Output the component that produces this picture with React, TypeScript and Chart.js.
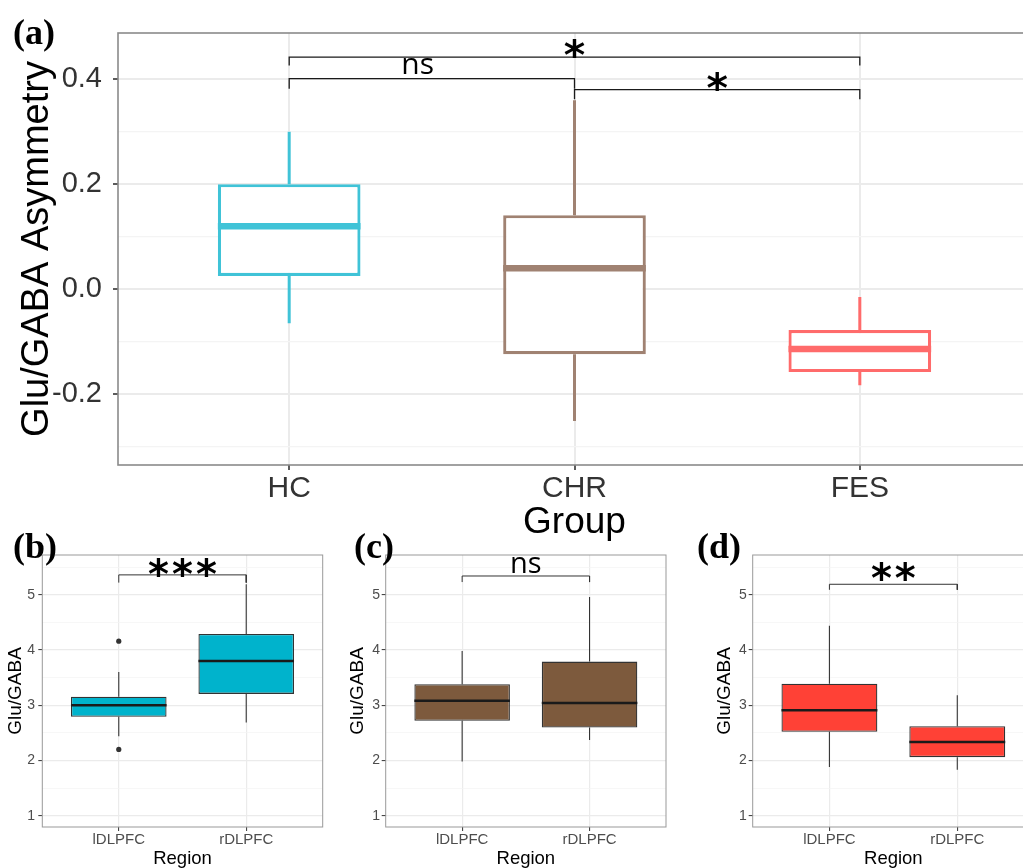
import React, { useEffect, useRef } from 'react';
import { Chart, registerables } from 'chart.js';
Chart.register(...registerables);

// ---------- Panel (a): Glu/GABA asymmetry by group ----------
const groupLabels = ['HC', 'CHR', 'FES'];
const groupColors = ['#40C3D7', '#A08272', '#FF6B6B'];
const asymMin = [-0.065, -0.251, -0.183];
const asymQ1 = [0.025, -0.124, -0.158];
const asymMedian = [0.12, 0.04, -0.114];
const asymQ3 = [0.2, 0.141, -0.078];
const asymMax = [0.3, 0.36, -0.015];
const asymTicks = [-0.3, -0.2, -0.1, 0, 0.1, 0.2, 0.3, 0.4];
const asymTickLabels = ['', '-0.2', '', '0.0', '', '0.2', '', '0.4'];
const asymBracketFrom = [0, 1, 0];
const asymBracketTo = [1, 2, 2];
const asymBracketY = [0.401, 0.38, 0.442];
const asymBracketTickY = [0.382, 0.362, 0.426];
const asymBracketLabel = ['ns', '*', '*'];
const asymBracketLabelX = [0.45, 1.5, 1.0];

// ---------- Panels (b)-(d): Glu/GABA by region ----------
const regionLabels = ['lDLPFC', 'rDLPFC'];
const ratioTicks = [1, 1.5, 2, 2.5, 3, 3.5, 4, 4.5, 5, 5.5];
const ratioTickLabels = ['1', '', '2', '', '3', '', '4', '', '5', ''];

const hcMin = [2.44, 2.685];
const hcQ1 = [2.79, 3.205];
const hcMedian = [3.0, 3.8];
const hcQ3 = [3.155, 4.29];
const hcMax = [3.6, 5.19];
const hcOutlierRegion = [0, 0];
const hcOutlierValue = [4.16, 2.2];
const hcBracket = { from: 0, to: 1, y: 5.36, tickY: 5.22, label: '***' };

const chrMin = [1.98, 2.37];
const chrQ1 = [2.72, 2.595];
const chrMedian = [3.08, 3.04];
const chrQ3 = [3.38, 3.79];
const chrMax = [3.98, 4.96];
const chrBracket = { from: 0, to: 1, y: 5.34, tickY: 5.23, label: 'ns' };

const fesMin = [1.88, 1.83];
const fesQ1 = [2.52, 2.06];
const fesMedian = [2.91, 2.335];
const fesQ3 = [3.39, 2.62];
const fesMax = [4.44, 3.18];
const fesBracket = { from: 0, to: 1, y: 5.19, tickY: 5.09, label: '**' };

const SANS = "'Liberation Sans', Arial, Helvetica, sans-serif";

interface BracketSpec {
  from: number; to: number; y: number; tickY: number; label: string; labelX: number;
  gap: number; size: number; family: string; weight: string; k: number; spacing: number;
}

interface PanelSpec {
  cats: string[]; min: number[]; q1: number[]; med: number[]; q3: number[]; max: number[];
  outX: number[]; outY: number[];
  fill: string[]; stroke: string[]; whiskerColor: string[]; medColor: string[];
  boxFrac: number; boxLW: number; medLW: number; whiskerLW: number; pointR: number;
  brackets: BracketSpec[]; bracketLW: number; bracketColor: string;
  yTicks: number[]; yTickLabels: string[]; yMin: number; yMax: number; xMin: number; xMax: number;
  yWidth: number; xHeight: number; padTop: number; padRight: number;
  yTickFont: number; xTickFont: number; yTitleFont: number; xTitleFont: number;
  tickLen: number; tickLW: number; yTickPad: number; xTickPad: number;
  yTitle: string; xTitle: string; yTitlePad: number; xTitlePad: number;
  gridMajor: string; gridMinor: string; gridMajorLW: number; gridMinorLW: number;
  borderColor: string; borderLW: number; tickColor: string; tickTextColor: string;
}

function overlayPlugin(p: PanelSpec) {
  return {
    id: 'overlay',
    afterDatasetsDraw(chart: any) {
      const { ctx, chartArea: a, scales } = chart;
      ctx.save();
      ctx.strokeStyle = p.borderColor;
      ctx.lineWidth = p.borderLW;
      ctx.strokeRect(a.left, a.top, a.right - a.left, a.bottom - a.top);
      p.brackets.forEach((b) => {
        ctx.font = `${b.weight} ${b.size}px ${b.family}`;
        (ctx as any).letterSpacing = `${b.spacing}px`;
        ctx.fillStyle = '#000';
        ctx.textAlign = 'center';
        ctx.textBaseline = 'alphabetic';
        const x = scales.x.getPixelForValue(b.labelX) + b.spacing / 2;
        const y = scales.y.getPixelForValue(b.y) - b.gap + b.k * b.size;
        ctx.fillText(b.label, x, y);
      });
      ctx.restore();
    },
  };
}

function buildChart(canvas: HTMLCanvasElement, p: PanelSpec) {
  const idx = p.cats.map((_, i) => i);
  const hw = p.boxFrac / 2;
  const datasets: any[] = [];
  idx.forEach((i) => {
    datasets.push({
      type: 'line', order: 0,
      data: [{ x: i - hw, y: p.med[i] }, { x: i + hw, y: p.med[i] }],
      borderColor: p.medColor[i], borderWidth: p.medLW, pointRadius: 0, fill: false, tension: 0,
    });
  });
  p.brackets.forEach((b) => {
    datasets.push({
      type: 'line', order: 0,
      data: [{ x: b.from, y: b.tickY }, { x: b.from, y: b.y }, { x: b.to, y: b.y }, { x: b.to, y: b.tickY }],
      borderColor: p.bracketColor, borderWidth: p.bracketLW, pointRadius: 0, fill: false, tension: 0,
    });
  });
  if (p.outX.length) {
    datasets.push({
      type: 'line', order: 0, showLine: false,
      data: p.outX.map((x, j) => ({ x, y: p.outY[j] })),
      pointRadius: p.pointR, pointBackgroundColor: '#333333', pointBorderWidth: 0,
    });
  }
  idx.forEach((i) => {
    datasets.push({
      type: 'line', order: 1, spanGaps: false,
      data: [
        { x: i, y: p.q3[i] }, { x: i, y: p.max[i] }, { x: i, y: null },
        { x: i, y: p.q1[i] }, { x: i, y: p.min[i] },
      ],
      borderColor: p.whiskerColor[i], borderWidth: p.whiskerLW, pointRadius: 0, fill: false, tension: 0,
    });
  });
  datasets.push({
    type: 'bar', order: 2,
    data: idx.map((i) => ({ x: i, y: [p.q1[i], p.q3[i]] })),
    backgroundColor: p.fill, borderColor: p.stroke, borderWidth: p.boxLW, borderSkipped: false,
    barPercentage: p.boxFrac, categoryPercentage: 1,
  });

  const isMajor = (ctx: any) => !!p.yTickLabels[ctx.index];

  return new Chart(canvas, {
    type: 'bar',
    data: { datasets },
    plugins: [overlayPlugin(p)],
    options: {
      responsive: false,
      animation: false,
      events: [],
      layout: { padding: { top: p.padTop, right: p.padRight, left: 0, bottom: 0 } },
      plugins: { legend: { display: false }, tooltip: { enabled: false } },
      scales: {
        x: {
          type: 'linear', min: p.xMin, max: p.xMax, offset: false, bounds: 'data',
          afterBuildTicks: (s: any) => { s.ticks = idx.map((v) => ({ value: v })); },
          afterFit: (s: any) => { s.height = p.xHeight; },
          ticks: {
            autoSkip: false, maxRotation: 0, minRotation: 0, padding: p.xTickPad,
            color: p.tickTextColor, font: { family: SANS, size: p.xTickFont },
            callback: (v: any) => p.cats[Math.round(Number(v))],
          },
          grid: {
            offset: false, color: p.gridMajor, lineWidth: p.gridMajorLW,
            tickColor: p.tickColor, tickLength: p.tickLen, tickWidth: p.tickLW,
          },
          border: { display: false },
          title: {
            display: true, text: p.xTitle, color: '#000',
            font: { family: SANS, size: p.xTitleFont, lineHeight: 1 },
            padding: { top: 0, bottom: p.xTitlePad },
          },
        },
        y: {
          type: 'linear', min: p.yMin, max: p.yMax, bounds: 'data',
          afterBuildTicks: (s: any) => { s.ticks = p.yTicks.map((v) => ({ value: v })); },
          afterFit: (s: any) => { s.width = p.yWidth; },
          ticks: {
            autoSkip: false, padding: p.yTickPad, color: p.tickTextColor,
            font: { family: SANS, size: p.yTickFont },
            callback: (_v: any, i: number) => p.yTickLabels[i],
          },
          grid: {
            color: (ctx: any) => (isMajor(ctx) ? p.gridMajor : p.gridMinor),
            lineWidth: (ctx: any) => (isMajor(ctx) ? p.gridMajorLW : p.gridMinorLW),
            tickColor: (ctx: any) => (isMajor(ctx) ? p.tickColor : 'rgba(0,0,0,0)'),
            tickLength: p.tickLen, tickWidth: p.tickLW,
          },
          border: { display: false },
          title: {
            display: true, text: p.yTitle, color: '#000',
            font: { family: SANS, size: p.yTitleFont, lineHeight: 1 },
            padding: { top: p.yTitlePad, bottom: 0 },
          },
        },
      },
    } as any,
  });
}

const specA: PanelSpec = {
  cats: groupLabels, min: asymMin, q1: asymQ1, med: asymMedian, q3: asymQ3, max: asymMax,
  outX: [], outY: [],
  fill: groupLabels.map(() => '#FFFFFF'), stroke: groupColors, whiskerColor: groupColors, medColor: groupColors,
  boxFrac: 0.5, boxLW: 3.2, medLW: 6.5, whiskerLW: 3, pointR: 0,
  brackets: asymBracketLabel.map((label, i) => ({
    from: asymBracketFrom[i], to: asymBracketTo[i], y: asymBracketY[i], tickY: asymBracketTickY[i],
    label, labelX: asymBracketLabelX[i],
    gap: label === 'ns' ? 12.8 : 11.5,
    size: label === 'ns' ? 30 : 41,
    family: label === 'ns' ? "'Open Sans', sans-serif" : "'DejaVu Sans', sans-serif",
    weight: label === 'ns' ? 'normal' : 'bold',
    k: label === 'ns' ? 0.27 : 0.57,
    spacing: 0,
  })),
  bracketLW: 1.3, bracketColor: '#1a1a1a',
  yTicks: asymTicks, yTickLabels: asymTickLabels, yMin: -0.335, yMax: 0.488, xMin: -0.6, xMax: 2.6,
  yWidth: 118, xHeight: 83, padTop: 33, padRight: 0,
  yTickFont: 29, xTickFont: 30, yTitleFont: 38, xTitleFont: 37,
  tickLen: 5, tickLW: 1.6, yTickPad: 11, xTickPad: 1,
  yTitle: 'Glu/GABA Asymmetry', xTitle: 'Group', yTitlePad: 18.5, xTitlePad: 6.5,
  gridMajor: '#EBEBEB', gridMinor: '#F4F4F4', gridMajorLW: 2, gridMinorLW: 1.2,
  borderColor: '#8A8A8A', borderLW: 1.6, tickColor: '#333333', tickTextColor: '#333333',
};

function regionSpec(
  min: number[], q1: number[], med: number[], q3: number[], max: number[],
  outX: number[], outY: number[], color: string,
  bracket: { from: number; to: number; y: number; tickY: number; label: string },
  yWidth: number, padRight: number, yTitlePad: number, yTickPad: number, gap: number,
): PanelSpec {
  const isNs = bracket.label === 'ns';
  return {
    cats: regionLabels, min, q1, med, q3, max, outX, outY,
    fill: regionLabels.map(() => color), stroke: regionLabels.map(() => '#333333'),
    whiskerColor: regionLabels.map(() => '#333333'), medColor: regionLabels.map(() => '#1A1A1A'),
    boxFrac: 0.75, boxLW: 1.3, medLW: 2.6, whiskerLW: 1.1, pointR: 2.6,
    brackets: [{
      ...bracket, labelX: (bracket.from + bracket.to) / 2, gap,
      size: isNs ? 29 : 40,
      family: isNs ? "'Open Sans', sans-serif" : "'DejaVu Sans', sans-serif",
      weight: isNs ? 'normal' : 'bold', k: isNs ? 0.27 : 0.57,
      spacing: isNs ? 0 : 3,
    }],
    bracketLW: 1, bracketColor: '#333333',
    yTicks: ratioTicks, yTickLabels: ratioTickLabels, yMin: 0.795, yMax: 5.72, xMin: -0.6, xMax: 1.6,
    yWidth, xHeight: 41, padTop: 25, padRight,
    yTickFont: 14, xTickFont: 15, yTitleFont: 19, xTitleFont: 18.5,
    tickLen: 4, tickLW: 1, yTickPad, xTickPad: 0,
    yTitle: 'Glu/GABA', xTitle: 'Region', yTitlePad, xTitlePad: 0,
    gridMajor: '#EBEBEB', gridMinor: '#F4F4F4', gridMajorLW: 1.2, gridMinorLW: 0.7,
    borderColor: '#999999', borderLW: 1, tickColor: '#333333', tickTextColor: '#4D4D4D',
  };
}

const specB = regionSpec(hcMin, hcQ1, hcMedian, hcQ3, hcMax, hcOutlierRegion, hcOutlierValue,
  '#00B3CC', hcBracket, 42.3, 17.3, 6.3, 3.3, 9.5);
const specC = regionSpec(chrMin, chrQ1, chrMedian, chrQ3, chrMax, [], [],
  '#7D5A3D', chrBracket, 45.7, 14, 8, 1.7, 11.3);
const specD = regionSpec(fesMin, fesQ1, fesMedian, fesQ3, fesMax, [], [],
  '#FF4136', fesBracket, 72.7, 0, 35.5, 2, 14.8);

function Panel({ spec, left, top, width, height }: { spec: PanelSpec; left: number; top: number; width: number; height: number }) {
  const ref = useRef<HTMLCanvasElement>(null);
  useEffect(() => {
    if (!ref.current) return;
    const chart = buildChart(ref.current, spec);
    return () => chart.destroy();
  }, [spec]);
  return (
    <canvas ref={ref} width={width} height={height}
      style={{ position: 'absolute', left, top, width, height }} />
  );
}

const panelLabelStyle = (left: number, top: number): React.CSSProperties => ({
  position: 'absolute', left, top,
  fontFamily: "'Liberation Serif', 'Times New Roman', serif",
  fontWeight: 'bold', fontSize: 36, lineHeight: '36px', color: '#000', whiteSpace: 'nowrap',
});

export default function App() {
  return (
    <div style={{ position: 'absolute', left: 0, top: 0, width: 1023, height: 868, overflow: 'hidden', background: '#FFFFFF' }}>
      <Panel spec={specA} left={0} top={0} width={1031} height={548} />
      <Panel spec={specB} left={0} top={530} width={340} height={338} />
      <Panel spec={specC} left={340} top={530} width={340} height={338} />
      <Panel spec={specD} left={680} top={530} width={354} height={338} />
      <div style={panelLabelStyle(13, 14)}>(a)</div>
      <div style={panelLabelStyle(13, 528)}>(b)</div>
      <div style={panelLabelStyle(354, 528)}>(c)</div>
      <div style={panelLabelStyle(697, 528)}>(d)</div>
    </div>
  );
}
